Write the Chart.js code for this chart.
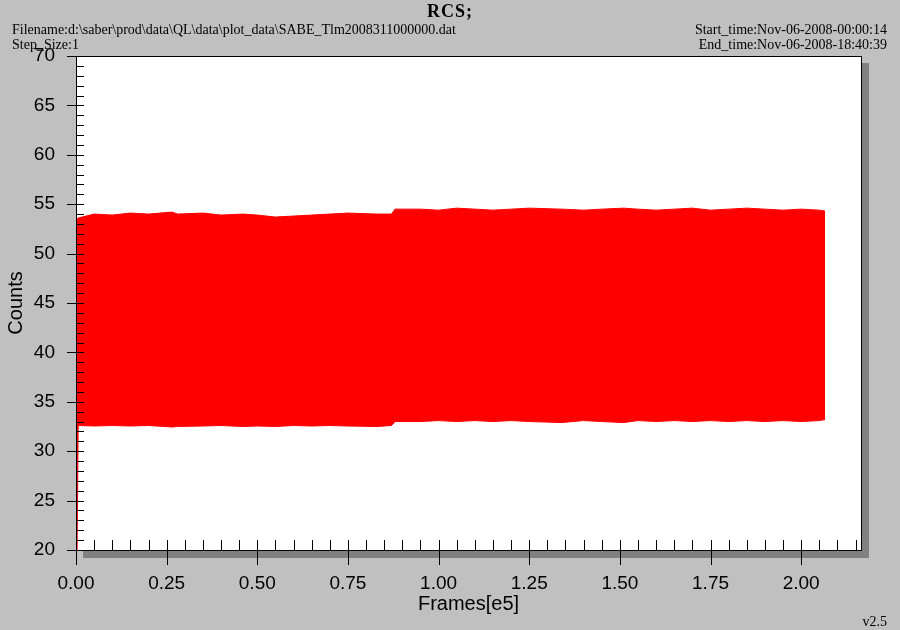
<!DOCTYPE html>
<html>
<head>
<meta charset="utf-8">
<script src="https://cdn.jsdelivr.net/npm/chart.js@4.4.1/dist/chart.umd.min.js"></script>
<style>
  html, body { margin: 0; padding: 0; background: #c0c0c0; }
  #wrap { position: relative; width: 900px; height: 630px; }
</style>
</head>
<body>
<div id="wrap"><canvas id="rcsChart" width="900" height="630"></canvas></div>
<script>
// frame number (units of 1e5) along the band, with the upper and lower edge of the red trace
const frames = [0, 0.003, 0.006, 0.05, 0.10, 0.15, 0.20, 0.265, 0.28, 0.35, 0.40, 0.46, 0.50, 0.55, 0.60,
  0.65, 0.70, 0.75, 0.83, 0.87, 0.88, 0.95, 1.00, 1.05, 1.10, 1.15, 1.20, 1.25, 1.34, 1.40, 1.45,
  1.51, 1.55, 1.60, 1.65, 1.70, 1.75, 1.80, 1.85, 1.90, 1.95, 2.00, 2.05, 2.066];
const countsHigh = [53.5, 53.5, 53.6, 54.0, 53.9, 54.1, 54.0, 54.2, 54.0, 54.1, 53.9, 54.0, 53.9, 53.7, 53.8,
  53.9, 54.0, 54.1, 54.0, 54.0, 54.5, 54.5, 54.4, 54.6, 54.5, 54.4, 54.5, 54.6, 54.5, 54.4, 54.5,
  54.6, 54.5, 54.4, 54.5, 54.6, 54.4, 54.5, 54.6, 54.5, 54.4, 54.5, 54.4, 54.3];
const countsLow = [20, 20, 32.6, 32.55, 32.6, 32.55, 32.6, 32.45, 32.5, 32.55, 32.6, 32.5, 32.55, 32.5, 32.6,
  32.55, 32.6, 32.55, 32.5, 32.6, 33.0, 33.0, 33.1, 33.0, 33.1, 33.0, 33.1, 33.0, 32.9, 33.1, 33.0,
  32.9, 33.1, 33.0, 33.1, 33.0, 33.1, 33.0, 33.1, 33.0, 33.1, 33.0, 33.1, 33.2];

const xTickValues = [0, 0.25, 0.5, 0.75, 1.0, 1.25, 1.5, 1.75, 2.0];
const yTickValues = [20, 25, 30, 35, 40, 45, 50, 55, 60, 65, 70];

const headerLeft = ["Filename:d:\\saber\\prod\\data\\QL\\data\\plot_data\\SABE_Tlm2008311000000.dat", "Step_Size:1"];
const headerRight = ["Start_time:Nov-06-2008-00:00:14", "End_time:Nov-06-2008-18:40:39"];

const frame = {
  id: "frame",
  beforeDraw(chart) {
    const { ctx, chartArea: a } = chart;
    ctx.save();
    ctx.fillStyle = "#c0c0c0";
    ctx.fillRect(0, 0, chart.width, chart.height);
    ctx.fillStyle = "#808080";
    ctx.fillRect(a.left + 7, a.top + 7, a.right - a.left + 1, a.bottom - a.top + 1);
    ctx.fillStyle = "#ffffff";
    ctx.fillRect(a.left, a.top, a.right - a.left, a.bottom - a.top);

    ctx.fillStyle = "#000";
    ctx.font = "bold 18px 'Liberation Serif'";
    ctx.letterSpacing = "1px";
    ctx.textAlign = "center";
    ctx.textBaseline = "alphabetic";
    ctx.fillText("RCS;", 450, 17);
    ctx.letterSpacing = "0px";
    ctx.font = "14px 'Liberation Serif'";
    ctx.textAlign = "left";
    ctx.fillText(headerLeft[0], 12, 34);
    ctx.fillText(headerLeft[1], 12, 49);
    ctx.textAlign = "right";
    ctx.fillText(headerRight[0], 887, 34);
    ctx.fillText(headerRight[1], 887, 49);
    ctx.fillText("v2.5", 887, 626);
    ctx.restore();
  },
  afterDraw(chart) {
    const { ctx, chartArea: a } = chart;
    const xs = chart.scales.x;
    const ys = chart.scales.y;
    ctx.save();
    ctx.strokeStyle = "#000";
    ctx.lineWidth = 1;
    ctx.strokeRect(a.left + 0.5, a.top + 0.5, a.right - a.left, a.bottom - a.top);
    ctx.beginPath();
    // y ticks: major every 5, minor every 1
    for (let v = 20; v <= 70; v++) {
      const y = Math.round(ys.getPixelForValue(v)) + 0.5;
      const major = v % 5 === 0;
      ctx.moveTo(a.left + (major ? -9 : 0), y);
      ctx.lineTo(a.left + 8, y);
    }
    // x ticks: major every 0.25, minor every 0.05
    for (let i = 0; i <= 43; i++) {
      const x = Math.round(xs.getPixelForValue(i * 0.05)) + 0.5;
      const major = i % 5 === 0;
      ctx.moveTo(x, a.bottom - 10);
      ctx.lineTo(x, a.bottom + (major ? 15 : 0));
    }
    ctx.stroke();
    ctx.restore();
  }
};

const labelFont = { family: "'Liberation Sans', Arial, sans-serif", size: 19 };
const titleFont = { family: "'Liberation Sans', Arial, sans-serif", size: 20 };

new Chart(document.getElementById("rcsChart"), {
  type: "line",
  data: {
    datasets: [
      {
        label: "low",
        data: frames.map((f, i) => ({ x: f, y: countsLow[i] })),
        borderColor: "#ff0000",
        backgroundColor: "#ff0000",
        borderWidth: 1,
        pointRadius: 0,
        fill: false,
      },
      {
        label: "high",
        data: frames.map((f, i) => ({ x: f, y: countsHigh[i] })),
        borderColor: "#ff0000",
        backgroundColor: "#ff0000",
        borderWidth: 1,
        pointRadius: 0,
        fill: "-1",
      },
    ],
  },
  options: {
    responsive: false,
    animation: false,
    layout: { padding: { top: 56, right: 39, left: 0, bottom: 0 } },
    plugins: {
      legend: { display: false },
      tooltip: { enabled: false },
    },
    scales: {
      x: {
        type: "linear",
        min: 0,
        max: 2.165,
        grid: { display: false, drawTicks: false, tickLength: 0 },
        border: { display: false },
        afterBuildTicks: (scale) => {
          scale.ticks = xTickValues.map((v) => ({ value: v }));
        },
        afterFit: (scale) => {
          scale.height = 80;
        },
        ticks: {
          color: "#000",
          font: labelFont,
          padding: 22,
          maxRotation: 0,
          autoSkip: false,
          callback: (v) => Number(v).toFixed(2),
        },
        title: {
          display: true,
          text: "Frames[e5]",
          color: "#000",
          font: titleFont,
          padding: { top: 0, bottom: 14 },
        },
      },
      y: {
        min: 20,
        max: 70,
        grid: { display: false, drawTicks: false, tickLength: 0 },
        border: { display: false },
        afterBuildTicks: (scale) => {
          scale.ticks = yTickValues.map((v) => ({ value: v }));
        },
        afterFit: (scale) => {
          scale.width = 76;
        },
        ticks: {
          color: "#000",
          font: labelFont,
          padding: 21,
        },
        title: {
          display: true,
          text: "Counts",
          color: "#000",
          font: titleFont,
          padding: { top: 4, bottom: 0 },
        },
      },
    },
  },
  plugins: [frame],
});
</script>
</body>
</html>
